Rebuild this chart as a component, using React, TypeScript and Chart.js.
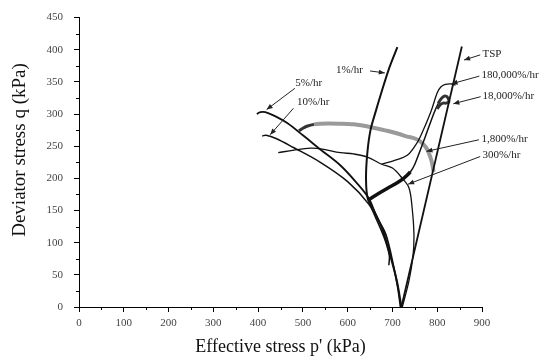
import React, { useEffect, useRef } from "react";
import { Chart, registerables } from "chart.js";

Chart.register(...registerables);

// ---- data (p' in kPa, q in kPa) ----
const tspP = [720, 855];
const tspQ = [0, 405];

const rate1P = [720, 710, 695, 678, 660, 645, 641, 644, 651, 663, 676, 692, 711];
const rate1Q = [0, 40, 80, 120, 148, 168, 200, 240, 275, 305, 335, 370, 404];

const rate5P = [397, 405, 416, 440, 465, 500, 539, 584, 620, 647, 665, 685, 703, 712, 718];
const rate5Q = [300, 303, 303, 296, 286, 267, 245, 220, 193, 169, 140, 113, 62, 30, 0];

const rate10P = [409, 418, 440, 479, 539, 600, 647, 665, 683, 693, 692];
const rate10Q = [266, 267, 262, 248, 225, 195, 160, 135, 105, 80, 65];

const rate300P = [722, 737, 746, 748, 744, 737, 722, 700, 676, 644, 613, 584, 540, 517, 480, 445];
const rate300Q = [0, 41, 80, 113, 154, 185, 200, 216, 222, 233, 238, 240, 246, 247, 244, 240];

const rate1800P = [491, 500, 509, 525, 539, 580, 614, 650, 688, 715, 733, 750, 763, 775, 781, 787, 792];
const rate1800Q = [274, 278, 281, 284, 285, 285, 284, 280, 274, 269, 265, 262, 257, 248, 240, 228, 210];

const rate18kP = [645, 668, 690, 708, 725, 740, 750, 760, 774, 793, 802, 809, 816, 822, 826, 820, 813, 806, 800];
const rate18kQ = [166, 176, 185, 192, 200, 210, 222, 240, 266, 302, 316, 324, 328, 327, 319, 317, 317, 314, 308];

const rate180kP = [676, 705, 733, 752, 763, 785, 800, 808, 818, 830, 841];
const rate180kQ = [222, 228, 236, 252, 266, 302, 333, 342, 346, 347, 345];

// ---- annotation labels (data coordinates) ----
const labelTexts = ["TSP", "180,000%/hr", "18,000%/hr", "1,800%/hr", "300%/hr", "1%/hr", "5%/hr", "10%/hr"];
const labelP = [901, 899, 901, 899, 901, 634, 483, 487];
const labelQ = [393, 361, 328, 261, 236, 368, 348, 318];
const labelAlign = ["left", "left", "left", "left", "left", "right", "left", "left"];
const arrowFromP = [896, 894, 897, 893, 896, 650, 482, 479];
const arrowFromQ = [392, 359, 327, 260, 234, 367, 340, 309];
const arrowToP = [860, 832, 836, 776, 735, 683, 419, 427];
const arrowToQ = [384, 347, 316, 242, 191, 364, 307, 268];

const serif = '"Liberation Serif", "Times New Roman", "DejaVu Serif", serif';

function pts(p: number[], q: number[]) {
  return p.map((v, i) => ({ x: v, y: q[i] }));
}

const overlayPlugin = {
  id: "overlay",
  afterDraw(chart: any) {
    const { ctx, chartArea } = chart;
    const xs = chart.scales.x;
    const ys = chart.scales.y;
    ctx.save();
    // minor ticks
    ctx.strokeStyle = "#000";
    ctx.lineWidth = 1;
    for (let v = 25; v < 450; v += 50) {
      const py = Math.round(ys.getPixelForValue(v)) + 0.5;
      ctx.beginPath();
      ctx.moveTo(chartArea.left - 3, py);
      ctx.lineTo(chartArea.left, py);
      ctx.stroke();
    }
    for (let v = 50; v < 900; v += 100) {
      const px = Math.round(xs.getPixelForValue(v)) + 0.5;
      ctx.beginPath();
      ctx.moveTo(px, chartArea.bottom);
      ctx.lineTo(px, chartArea.bottom + 3);
      ctx.stroke();
    }
    // annotations
    ctx.font = `11px ${serif}`;
    ctx.fillStyle = "#222";
    ctx.textBaseline = "middle";
    for (let i = 0; i < labelTexts.length; i++) {
      const tx = xs.getPixelForValue(labelP[i]);
      const ty = ys.getPixelForValue(labelQ[i]);
      ctx.textAlign = labelAlign[i];
      ctx.fillText(labelTexts[i], tx, ty);
      const x0 = xs.getPixelForValue(arrowFromP[i]);
      const y0 = ys.getPixelForValue(arrowFromQ[i]);
      const x1 = xs.getPixelForValue(arrowToP[i]);
      const y1 = ys.getPixelForValue(arrowToQ[i]);
      ctx.strokeStyle = "#222";
      ctx.lineWidth = 1;
      ctx.beginPath();
      ctx.moveTo(x0, y0);
      ctx.lineTo(x1, y1);
      ctx.stroke();
      const ang = Math.atan2(y1 - y0, x1 - x0);
      const L = 6, W = 2.5;
      ctx.beginPath();
      ctx.moveTo(x1, y1);
      ctx.lineTo(x1 - L * Math.cos(ang) + W * Math.sin(ang), y1 - L * Math.sin(ang) - W * Math.cos(ang));
      ctx.lineTo(x1 - L * Math.cos(ang) - W * Math.sin(ang), y1 - L * Math.sin(ang) + W * Math.cos(ang));
      ctx.closePath();
      ctx.fill();
    }
    // y-axis title
    ctx.save();
    ctx.translate(20, 150);
    ctx.rotate(-Math.PI / 2);
    ctx.font = `19px ${serif}`;
    ctx.fillStyle = "#111";
    ctx.textAlign = "center";
    ctx.textBaseline = "middle";
    ctx.fillText("Deviator stress q (kPa)", 0, 0);
    ctx.restore();
    ctx.restore();
  },
};

export default function App() {
  const ref = useRef<HTMLCanvasElement>(null);
  useEffect(() => {
    if (!ref.current) return;
    const line = (label: string, p: number[], q: number[], width: number, extra: any = {}) => ({
      label,
      data: pts(p, q),
      borderColor: "#111",
      borderWidth: width,
      pointRadius: 0,
      tension: 0.35,
      fill: false,
      ...extra,
    });
    const chart = new Chart(ref.current, {
      type: "line",
      data: {
        datasets: [
          line("TSP", tspP, tspQ, 1.8, { tension: 0 }),
          line("1%/hr", rate1P, rate1Q, 2),
          line("5%/hr", rate5P, rate5Q, 1.8),
          line("10%/hr", rate10P, rate10Q, 1.5),
          line("300%/hr", rate300P, rate300Q, 1.3),
          line("180,000%/hr", rate180kP, rate180kQ, 1.3),
          line("18,000%/hr", rate18kP, rate18kQ, 1.5, {
            tension: 0.25,
            segment: {
              borderWidth: (c: any) => (c.p0DataIndex < 5 ? 3.5 : c.p0DataIndex >= 10 ? 3 : 1.5),
              borderColor: (c: any) => (c.p0DataIndex >= 10 ? "#333" : "#111"),
            },
          }),
          line("1,800%/hr", rate1800P, rate1800Q, 4, {
            borderColor: "#9a9a9a",
            segment: {
              borderColor: (c: any) => (c.p0DataIndex < 3 ? "#333" : "#9a9a9a"),
              borderWidth: (c: any) => (c.p0DataIndex < 3 ? 3 : 4),
            },
          }),
        ],
      },
      options: {
        animation: false,
        responsive: false,
        devicePixelRatio: 1,
        parsing: true,
        layout: { padding: { left: 0, top: 13, right: 62, bottom: 0 } },
        plugins: { legend: { display: false }, tooltip: { enabled: false } },
        scales: {
          x: {
            type: "linear",
            min: 0,
            max: 900,
            ticks: { stepSize: 100, color: "#444", font: { family: serif, size: 11 }, padding: 5, maxRotation: 0 },
            grid: { drawOnChartArea: false, drawTicks: true, tickLength: 5, color: "#000" },
            border: { display: true, color: "#000", width: 1 },
            title: {
              display: true,
              text: "Effective stress p' (kPa)",
              color: "#111",
              font: { family: serif, size: 18 },
              padding: { top: 0, bottom: 2 },
            },
            afterFit: (s: any) => {
              s.height = 53;
            },
          },
          y: {
            type: "linear",
            min: 0,
            max: 450,
            ticks: { stepSize: 50, color: "#444", font: { family: serif, size: 11 }, padding: 11 },
            grid: { drawOnChartArea: false, drawTicks: true, tickLength: 5, color: "#000" },
            border: { display: true, color: "#000", width: 1 },
            afterFit: (s: any) => {
              s.width = 79;
            },
          },
        },
      },
      plugins: [overlayPlugin],
    });
    return () => chart.destroy();
  }, []);
  return (
    <div style={{ position: "absolute", left: 0, top: 0, width: 544, height: 360, background: "#fff" }}>
      <canvas ref={ref} width={544} height={360} />
    </div>
  );
}
